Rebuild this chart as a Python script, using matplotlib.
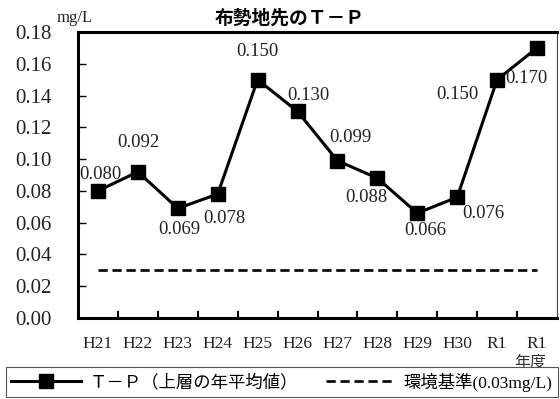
import matplotlib
matplotlib.use("Agg")
import matplotlib.pyplot as plt
from matplotlib.ticker import FixedLocator, FormatStrFormatter
from matplotlib.lines import Line2D

plt.rcParams['font.family'] = ['Liberation Serif', 'Noto Sans CJK JP']

years = ["H21", "H22", "H23", "H24", "H25", "H26", "H27", "H28", "H29", "H30", "R1", "R1"]
tp = [0.080, 0.092, 0.069, 0.078, 0.150, 0.130, 0.099, 0.088, 0.066, 0.076, 0.150, 0.170]
standard = 0.03

# label offsets in pixels (dx, dy), one per point
offsets = [(2, 16), (0, 29), (2, -21), (7, -24), (0, 28), (11, 16),
           (13, 23), (-11, -19), (8, -17), (26, -16), (-40, -15), (-11, -31)]

fig = plt.figure(figsize=(5.6, 3.99), dpi=100)
ax = fig.add_axes([78 / 560, 1 - 318 / 399, 479 / 560, 286 / 399])

x = list(range(len(years)))
ax.plot(x, tp, color="black", lw=2.2, marker="s", ms=9.5, zorder=3)
ax.plot(x, [standard] * len(x), color="black", lw=1.9, ls=(0, (3.5, 1.8)))

for xi, v, (dx, dy) in zip(x, tp, offsets):
    ax.annotate(f"{v:.3f}", (xi, v), xytext=(dx, dy), textcoords="offset pixels",
                ha="center", va="center", fontsize=13.5, color="#222222")

ax.set_xlim(-0.5, len(years) - 0.5)
ax.set_ylim(0, 0.18)
ax.set_yticks([i * 0.02 for i in range(10)])
ax.yaxis.set_major_formatter(FormatStrFormatter("%.2f"))
ax.set_xticks(x)
ax.set_xticklabels(years)
ax.xaxis.set_minor_locator(FixedLocator([i + 0.5 for i in range(len(years) - 1)]))

ax.tick_params(axis="x", which="major", length=0, pad=13, labelsize=12.5, labelcolor="#222222")
ax.tick_params(axis="x", which="minor", direction="in", length=5, width=1.5)
ax.tick_params(axis="y", direction="in", length=6, width=1, pad=19, labelsize=15,
               labelcolor="#222222")

for side in ("left", "top", "bottom"):
    ax.spines[side].set_linewidth(2.2)
    ax.spines[side].set_color("black")
ax.spines["right"].set_linewidth(0.8)
ax.spines["right"].set_color("#444444")

fig.text(290 / 560, 1 - 18 / 399, "布勢地先のＴ－Ｐ", ha="center", va="center",
         fontsize=13.5, fontweight="bold", family=["Noto Sans CJK JP"])
fig.text(75 / 560, 1 - 18 / 399, "mg/L", ha="center", va="center", fontsize=12,
         color="#222222")
fig.text(530 / 560, 1 - 362 / 399, "年度", ha="center", va="center", fontsize=11.5,
         family=["Noto Sans CJK JP"], color="#333333")

handles = [
    Line2D([], [], color="black", lw=2.2, marker="s", ms=9.5),
    Line2D([], [], color="black", lw=1.9, ls=(0, (3.5, 1.8))),
]
leg = fig.legend(handles, ["Ｔ－Ｐ（上層の年平均値）", "環境基準(0.03mg/L)"],
                 loc="center", bbox_to_anchor=(282 / 560, 1 - 382 / 399), ncol=2,
                 fontsize=12.5, handlelength=4.0, handletextpad=0.5, columnspacing=1.6,
                 frameon=True, fancybox=False, edgecolor="#555555", framealpha=1,
                 borderpad=0.3, borderaxespad=0)
leg.get_frame().set_linewidth(0.8)

fig.savefig("out.png", dpi=100)
